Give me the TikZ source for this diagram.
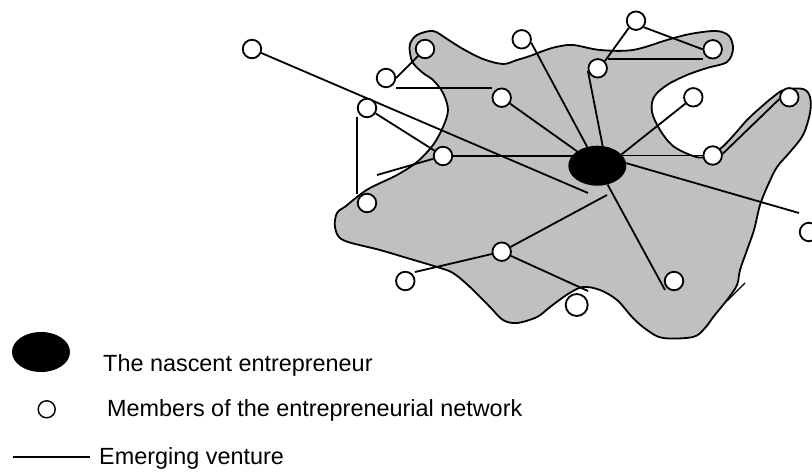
\documentclass[tikz,border=0pt]{standalone}
\usepackage{fontspec}
\setmainfont{Liberation Sans}
\usetikzlibrary{shapes.geometric,calc}
\pgfdeclarelayer{blob}
\pgfdeclarelayer{edges}
\pgfsetlayers{blob,edges,main}
\definecolor{ventgray}{RGB}{192,192,192}
\begin{document}
\begin{tikzpicture}[x=1bp,y=-1bp,
  member/.style={circle,draw=black,fill=white,line width=1.8bp,minimum size=18.5bp,inner sep=0pt},
  bigmember/.style={member,minimum size=22bp},
  entre/.style={ellipse,fill=black,minimum width=58bp,minimum height=40bp,inner sep=0pt},
  tie/.style={line width=1.8bp,black},
  outline/.style={draw=black,line width=1.8bp,fill=ventgray},
  legendtext/.style={anchor=base west,inner sep=0pt,font=\fontsize{23.5pt}{28pt}\selectfont}]
\useasboundingbox (0,0) rectangle (812,472);

% emerging venture (blob)
\begin{pgfonlayer}{blob}
\draw[outline] plot[smooth cycle,tension=0.55] coordinates {
 (410,44) (417,35) (433,31) (447,39) (463,49) (483,59) (503,64) (517,60) (530,56) (543,51)
 (556,47) (573,45) (600,50) (633,50) (667,40) (690,34) (716,31) (729,36) (733,49) (727,62)
 (707,68) (687,75) (667,85) (654,97) (652,112) (660,130) (673,146) (693,156) (705,157)
 (720,149) (733,136) (747,120) (760,108) (773,97) (784,90) (803,89) (810,97) (810,113)
 (803,135) (790,152) (777,167) (768,185) (760,205) (754,230) (747,250) (740,270) (737,285)
 (727,300) (714,316) (705,328) (693,337) (663,338) (647,330) (633,318) (617,300) (600,290)
 (583,287) (568,294) (550,307) (537,317) (517,323) (503,320) (490,307) (470,287) (453,273)
 (437,267) (407,258) (380,250) (343,240) (335,227) (337,213) (346,206) (357,197) (370,188)
 (397,175) (417,162) (433,145) (443,127) (448,110) (443,93) (433,80) (423,73) (413,63) (410,53)};
\draw[line width=1.4bp] (745,283) -- (727,301);
\end{pgfonlayer}

% members
\node[member] (m1) at (252,49) {};
\node[member] (m2) at (425,49) {};
\node[member] (m3) at (386,78) {};
\node[member] (m4) at (501.7,97.7) {};
\node[member] (m5) at (367,108) {};
\node[member] (m6) at (443,156) {};
\node[member] (m7) at (367,203) {};
\node[member] (m8) at (521.7,39.3) {};
\node[member] (m9) at (636,20.7) {};
\node[member] (m10) at (597.7,68.3) {};
\node[member] (m11) at (712.7,49.3) {};
\node[member] (m12) at (693.3,97.3) {};
\node[member] (m13) at (789.3,97.3) {};
\node[member] (m14) at (712.7,155.5) {};
\node[member] (m15) at (809,232) {};
\node[member] (m16) at (674,281) {};
\node[member] (m17) at (501.7,251.7) {};
\node[member] (m18) at (405.3,281) {};
\node[bigmember] (m19) at (576.7,305) {};
\node[entre] (ent) at (597.3,165.7) {};

% free ends
\coordinate (e1) at (588,193);
\coordinate (p3) at (396,88);
\coordinate (p7) at (377,175);
\coordinate (e17) at (799,213);
\coordinate (e18) at (665,290);
\coordinate (p19) at (607,195);
\coordinate (p20) at (415,272);
\coordinate (e21) at (588,291);

\begin{pgfonlayer}{edges}
\draw[tie] (m1) -- (e1);
\draw[tie] (m3.east) -- (m2.225);
\draw[tie] (p3) -- (p3 -| m4.west);
\draw[tie] (m4) -- (ent);
\draw[tie] ([yshift=-9bp]m5.west) -- ([yshift=9bp]m7.west);
\draw[tie] (m5) -- (m6);
\draw[tie] (p7) -- (m6);
\draw[tie] (m6) -- (m6 -| ent);
\draw[tie] (m8.-20) -- (ent);
\draw[tie] (m10.195) -- (ent.75);
\draw[tie] (m10.45) -- (m9.225);
\draw[tie] ([yshift=9bp]m10.east) -- ([yshift=9bp]m10.east -| m11.west);
\draw[tie] (m9.-40) -- (m11.west);
\draw[tie] (m12) -- (ent.25);
\draw[tie] (m14 -| ent) -- (m14);
\draw[tie] (m14.10) -- (m13.190);
\draw[tie] (ent.5) -- (e17);
\draw[tie] (ent) -- (e18);
\draw[tie] (p19) -- (m17);
\draw[tie] (m17) -- (p20);
\draw[tie] (m17) -- (e21);
\end{pgfonlayer}

% legend
\node[entre] (lgent) at (41,352) {};
\node[member,minimum size=17bp,line width=1.4bp] (lgmem) at (46.7,409.3) {};
\coordinate (lgl1) at (12.7,457);
\coordinate (lgl2) at (90,457);
\draw[line width=1.3bp] (lgl1) -- (lgl2);
\node[legendtext] (t1) at (103,371.5) {The nascent entrepreneur};
\node[legendtext] (t2) at (107,416.5) {Members of the entrepreneurial network};
\node[legendtext] (t3) at (99,464) {Emerging venture};
\end{tikzpicture}
\end{document}
